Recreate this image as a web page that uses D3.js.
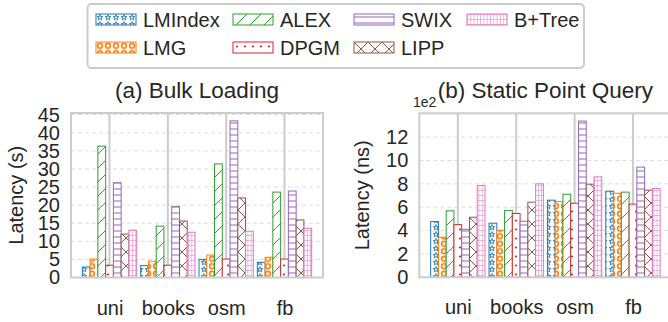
<!DOCTYPE html>
<html>
<head>
<meta charset="utf-8">
<script src="https://cdn.jsdelivr.net/npm/d3@7"></script>
<style>
  body { margin: 0; background: #fff; }
  svg { display: block; font-family: "Liberation Sans", Arial, sans-serif; }
</style>
</head>
<body>
<div id="chart"></div>
<script>
const categories = ['uni', 'books', 'osm', 'fb'];
const seriesNames = ['LMIndex', 'LMG', 'ALEX', 'DPGM', 'SWIX', 'LIPP', 'B+Tree'];
const seriesColors = ['#1f77b4', '#ff7f0e', '#2ca02c', '#d62728', '#9467bd', '#8c564b', '#e377c2'];

// (a) bulk loading, seconds; one row per series
const bulkLoading = [
  [2.9, 3.3, 5.0, 4.2],
  [5.1, 4.5, 6.2, 5.6],
  [36.3, 14.2, 31.4, 23.6],
  [3.4, 3.4, 5.1, 5.1],
  [26.2, 19.6, 43.3, 23.9],
  [12.0, 15.6, 22.0, 15.9],
  [13.1, 12.5, 12.8, 13.6]
];
// (b) static point query, x 1e2 ns
const pointQuery = [
  [4.77, 4.63, 6.60, 7.37],
  [3.43, 4.03, 6.49, 7.20],
  [5.69, 5.71, 7.11, 7.29],
  [4.51, 5.46, 6.34, 6.26],
  [4.11, 4.80, 13.37, 9.43],
  [5.14, 6.43, 7.97, 7.46],
  [7.86, 8.00, 8.60, 7.60]
];
const bulkTicks = [0, 5, 10, 15, 20, 25, 30, 35, 40, 45];
const queryTicks = [0, 2, 4, 6, 8, 10, 12];

const W = 668, H = 322;
const textColor = '#262626';
const gridColor = '#cccccc';

const svg = d3.select('#chart').append('svg')
  .attr('width', W)
  .attr('height', H);

// hatch patterns
const defs = svg.append('defs');
const hatch = [
  { w: 8, h: 7, draw: (p, c) => {
      const star = d3.symbol().type(d3.symbolStar).size(10);
      p.append('path').attr('d', star()).attr('transform', 'translate(4,3.5)')
        .attr('fill', 'none').attr('stroke', c).attr('stroke-width', 0.9);
  } },
  { w: 8, h: 7.5, draw: (p, c) => {
      p.append('circle').attr('cx', 4).attr('cy', 3.75).attr('r', 2.4)
        .attr('fill', 'none').attr('stroke', c).attr('stroke-width', 1.6);
  } },
  { w: 14, h: 14, draw: (p, c) => {
      p.append('path').attr('d', 'M0,14L14,0M-2,2L2,-2M12,16L16,12')
        .attr('stroke', c).attr('stroke-width', 1);
  } },
  { w: 8, h: 9, draw: (p, c) => {
      p.append('circle').attr('cx', 4).attr('cy', 4.5).attr('r', 1.1).attr('fill', c);
  } },
  { w: 8, h: 6, draw: (p, c) => {
      p.append('path').attr('d', 'M0,3H8').attr('stroke', c).attr('stroke-width', 1);
  } },
  { w: 14, h: 14, draw: (p, c) => {
      p.append('path').attr('d', 'M0,14L14,0M-2,2L2,-2M12,16L16,12M0,0L14,14M-2,12L2,16M12,-2L16,2')
        .attr('stroke', c).attr('stroke-width', 1);
  } },
  { w: 3.3, h: 5, draw: (p, c) => {
      p.append('path').attr('d', 'M0,0V5M0,0H3.3').attr('stroke', c).attr('stroke-width', 1);
  } }
];
hatch.forEach((h, i) => {
  const p = defs.append('pattern')
    .attr('id', 'hatch' + i)
    .attr('patternUnits', 'userSpaceOnUse')
    .attr('width', h.w)
    .attr('height', h.h);
  p.append('rect').attr('width', h.w).attr('height', h.h).attr('fill', '#fff');
  h.draw(p, seriesColors[i]);
});

const barWidth = 0.133;

function drawPanel(opts) {
  const { left, right, top, bottom, data, ticks, title, yLabel, yLabelX } = opts;
  const yMax = d3.max(data.flat()) * 1.05;

  const x = d3.scaleLinear().domain([-0.66, 3.66]).range([left, right]);
  const y = d3.scaleLinear().domain([0, yMax]).range([bottom, top]);

  const g = svg.append('g');

  // horizontal dashed grid
  g.append('g')
    .selectAll('line')
    .data(ticks.filter(t => t > 0))
    .join('line')
    .attr('x1', left).attr('x2', right)
    .attr('y1', d => y(d)).attr('y2', d => y(d))
    .attr('stroke', '#dddddd')
    .attr('stroke-width', 1)
    .attr('stroke-dasharray', '4,3');

  // vertical solid grid at categories
  g.append('g')
    .selectAll('line')
    .data(categories)
    .join('line')
    .attr('x1', (d, i) => x(i)).attr('x2', (d, i) => x(i))
    .attr('y1', top).attr('y2', bottom)
    .attr('stroke', gridColor)
    .attr('stroke-width', 2);

  // bars
  const series = g.append('g')
    .selectAll('g')
    .data(data)
    .join('g');

  series.selectAll('rect')
    .data((d, si) => d.map((v, ci) => ({ si, ci, v })))
    .join('rect')
    .attr('x', d => x(d.ci + (d.si - 3.5) * barWidth))
    .attr('y', d => y(d.v))
    .attr('width', x(barWidth) - x(0))
    .attr('height', d => y(0) - y(d.v))
    .attr('fill', d => `url(#hatch${d.si})`)
    .attr('stroke', d => seriesColors[d.si])
    .attr('stroke-width', 1);

  // frame
  g.append('rect')
    .attr('x', left).attr('y', top)
    .attr('width', right - left).attr('height', bottom - top)
    .attr('fill', 'none')
    .attr('stroke', gridColor)
    .attr('stroke-width', 2);

  // axes
  const yAxis = d3.axisLeft(y).tickValues(ticks).tickSize(0).tickPadding(11);
  g.append('g')
    .attr('transform', `translate(${left},0)`)
    .call(yAxis)
    .call(a => a.select('.domain').remove())
    .selectAll('text')
    .attr('fill', textColor)
    .attr('font-size', 20)
    .attr('font-family', '"Liberation Sans", Arial, sans-serif');

  const xAxis = d3.axisBottom(x)
    .tickValues(categories.map((c, i) => i))
    .tickFormat(i => categories[i])
    .tickSize(0)
    .tickPadding(23);
  g.append('g')
    .attr('transform', `translate(0,${bottom})`)
    .call(xAxis)
    .call(a => a.select('.domain').remove())
    .selectAll('text')
    .attr('fill', textColor)
    .attr('font-size', 20)
    .attr('font-family', '"Liberation Sans", Arial, sans-serif');

  g.append('text')
    .attr('x', (left + right) / 2)
    .attr('y', 98)
    .attr('text-anchor', 'middle')
    .attr('fill', textColor)
    .attr('font-size', 22.5)
    .text(title);

  g.append('text')
    .attr('transform', `translate(${yLabelX},${(top + bottom) / 2}) rotate(-90)`)
    .attr('text-anchor', 'middle')
    .attr('fill', textColor)
    .attr('font-size', 20)
    .text(yLabel);

  return g;
}

drawPanel({
  left: 71, right: 323, top: 113, bottom: 277.5,
  data: bulkLoading, ticks: bulkTicks,
  title: '(a) Bulk Loading', yLabel: 'Latency (s)', yLabelX: 23
});

const right = drawPanel({
  left: 419.3, right: 671.5, top: 113.3, bottom: 277.3,
  data: pointQuery, ticks: queryTicks,
  title: '(b) Static Point Query', yLabel: 'Latency (ns)', yLabelX: 369
});

right.append('text')
  .attr('x', 413)
  .attr('y', 107)
  .attr('fill', textColor)
  .attr('font-size', 14)
  .text('1e2');

// legend
const legend = svg.append('g');
legend.append('rect')
  .attr('x', 87.5).attr('y', 4)
  .attr('width', 496.5).attr('height', 64)
  .attr('rx', 4)
  .attr('fill', '#fff')
  .attr('stroke', gridColor)
  .attr('stroke-width', 2);

const colX = [96, 233, 354, 467];
const rowY = [14, 42];
const items = legend.selectAll('g.item')
  .data(seriesNames)
  .join('g')
  .attr('class', 'item')
  .attr('transform', (d, i) => `translate(${colX[Math.floor(i / 2)]},${rowY[i % 2]})`);

items.append('rect')
  .attr('width', 40).attr('height', 11)
  .attr('fill', (d, i) => `url(#hatch${i})`)
  .attr('stroke', (d, i) => seriesColors[i])
  .attr('stroke-width', 1);

items.append('text')
  .attr('x', 47)
  .attr('y', 5.5)
  .attr('dy', '0.35em')
  .attr('fill', textColor)
  .attr('font-size', 20)
  .text(d => d);
</script>
</body>
</html>
